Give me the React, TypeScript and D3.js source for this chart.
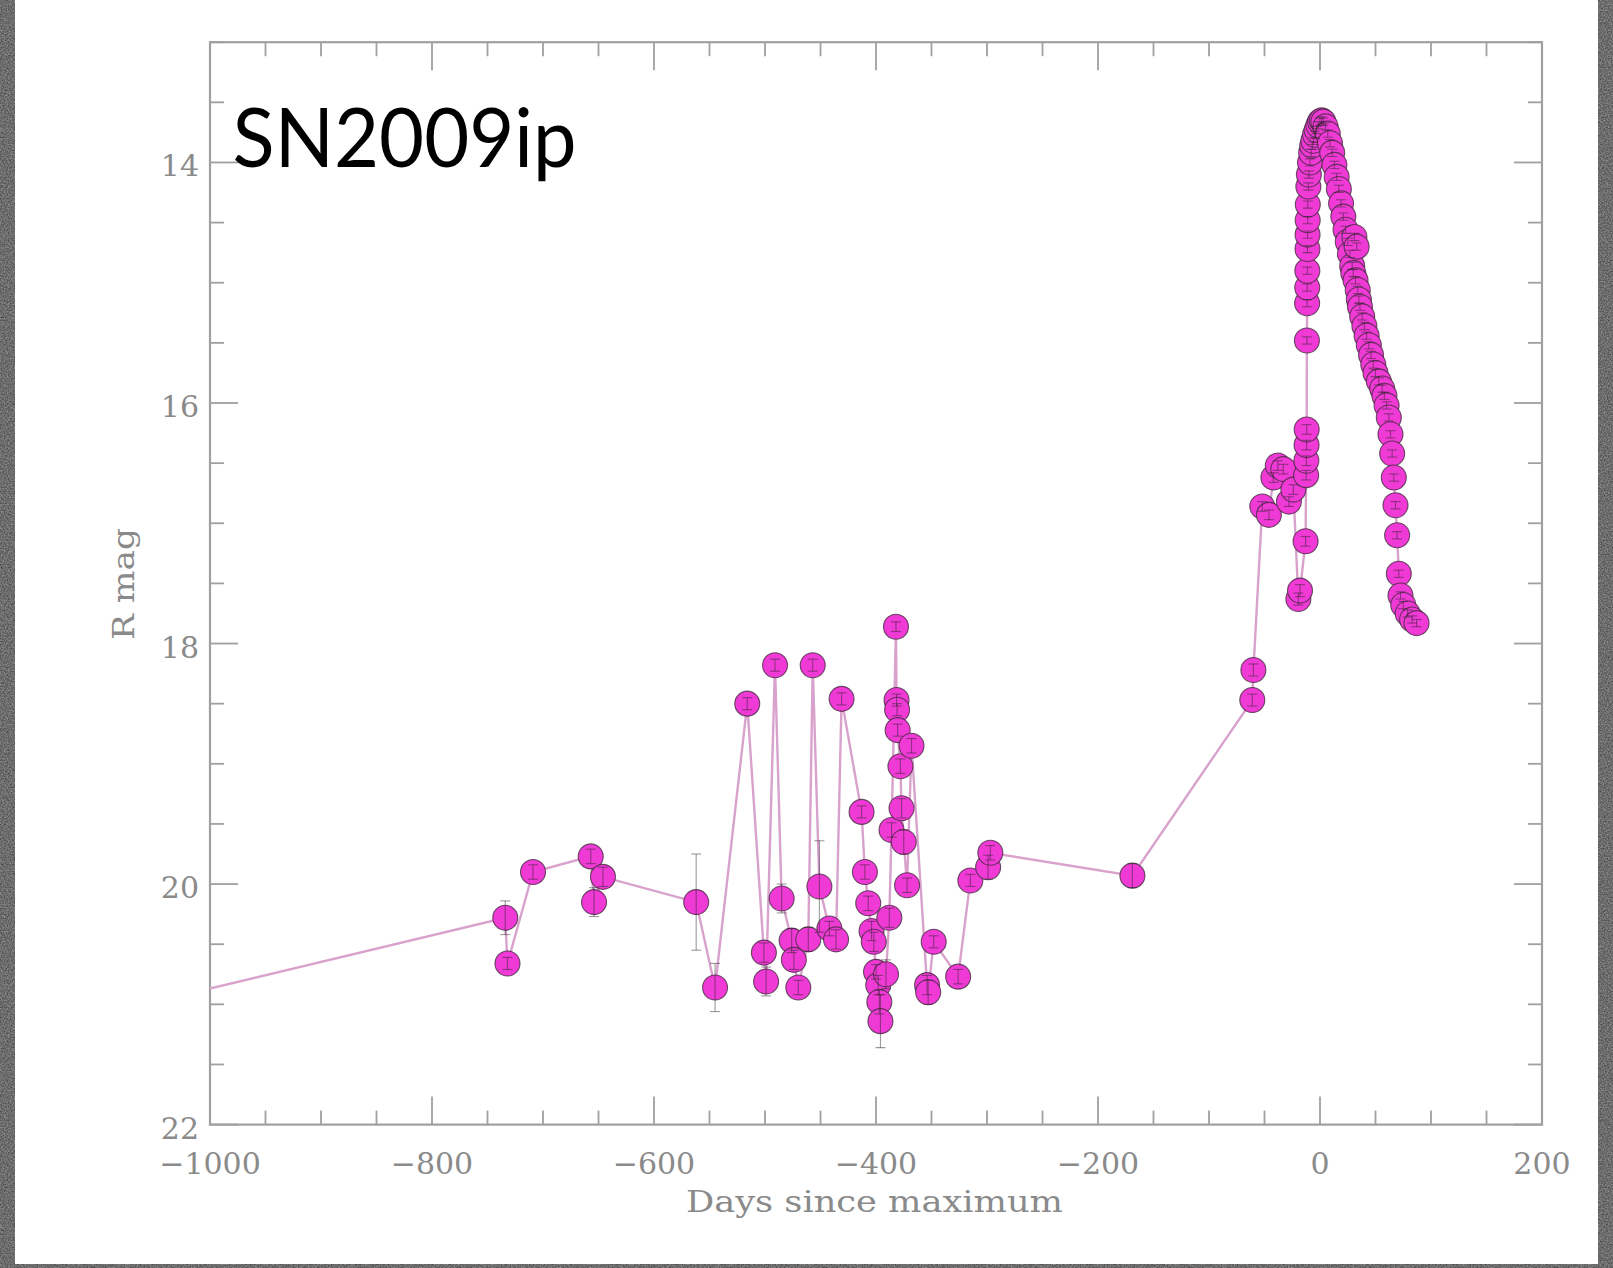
import React from 'react';
import * as d3 from 'd3';

// Light curve of SN2009ip (R band), days since maximum, magnitude, error
const days: number[] = [
  -1100, -734, -732, -709, -657, -654, -646, -562, -545, -516,
  -501, -499, -491, -485, -476, -474, -470, -461, -457, -451,
  -442, -436, -431, -413, -410, -407, -404, -402, -400, -398,
  -397, -396, -391, -388, -386, -382, -381.5, -381, -380.5, -378,
  -377, -375, -372, -368, -354, -353, -348, -326, -315, -299,
  -297, -169, -61, -60, -52, -46, -42, -38, -33, -28,
  -24, -19.5, -18, -13, -12.5, -12.3, -12.1, -12, -11.8, -11.6,
  -11.5, -11.4, -11.3, -11.2, -11.1, -11, -10.5, -10, -9, -8,
  -7, -6, -4.5, -3, -1.5, 0, 1.5, 3, 5, 7,
  9, 11, 13, 15, 17, 19, 21, 23, 25, 27,
  29, 30, 31, 32, 33, 34, 35, 36, 38, 40,
  42, 44, 46, 48, 50, 53, 56, 58, 60, 62,
  63.5, 65, 66.5, 68, 69.5, 71, 72.5, 75, 79, 83,
  87,
];

const mags: number[] = [
  21.09, 20.28, 20.66, 19.9, 19.77, 20.15, 19.94, 20.15, 20.86, 18.5,
  20.57, 20.81, 18.18, 20.12, 20.47, 20.63, 20.86, 20.46, 18.18, 20.02,
  20.37, 20.46, 18.46, 19.4, 19.9, 20.16, 20.39, 20.48, 20.73, 20.84,
  20.98, 21.14, 20.75, 20.28, 19.55, 17.86, 18.47, 18.55, 18.72, 19.02,
  19.37, 19.65, 20.01, 18.85, 20.84, 20.9, 20.48, 20.77, 19.97, 19.86,
  19.74, 19.93, 18.47, 18.22, 16.86, 16.93, 16.62, 16.52, 16.55, 16.82,
  16.72, 17.63, 17.56, 17.15, 16.6, 16.48, 16.35, 16.22, 15.48, 15.17,
  15.04, 14.9, 14.72, 14.6, 14.48, 14.35, 14.2, 14.1, 14.0, 13.92,
  13.86, 13.82, 13.77, 13.73, 13.69, 13.66, 13.65, 13.66, 13.7, 13.76,
  13.84, 13.92, 14.02, 14.12, 14.22, 14.34, 14.45, 14.56, 14.66, 14.76,
  14.86, 14.92, 14.62, 14.98, 14.7, 15.06, 15.14, 15.2, 15.28, 15.36,
  15.44, 15.52, 15.6, 15.68, 15.75, 15.82, 15.88, 15.94, 16.02, 16.12,
  16.26, 16.42, 16.62, 16.85, 17.1, 17.42, 17.6, 17.68, 17.75, 17.8,
  17.83,
];

const errs: number[] = [
  0, 0.14, 0.05, 0.06, 0.06, 0.12, 0.08, 0.4, 0.2, 0.05,
  0.08, 0.12, 0.05, 0.12, 0.1, 0.08, 0.06, 0.1, 0.05, 0.38,
  0.06, 0.08, 0.05, 0.05, 0.06, 0.06, 0.08, 0.08, 0.06, 0.08,
  0.1, 0.22, 0.12, 0.08, 0.06, 0.04, 0.05, 0.05, 0.05, 0.06,
  0.08, 0.1, 0.06, 0.06, 0.08, 0.1, 0.05, 0.06, 0.05, 0.1,
  0.06, 0.1, 0.05, 0.05, 0.04, 0.04, 0.04, 0.04, 0.04, 0.04,
  0.04, 0.05, 0.05, 0.04, 0.04, 0.04, 0.04, 0.04, 0.03, 0.03,
  0.03, 0.03, 0.03, 0.03, 0.03, 0.03, 0.03, 0.03, 0.03, 0.03,
  0.03, 0.03, 0.03, 0.03, 0.03, 0.03, 0.03, 0.03, 0.03, 0.03,
  0.03, 0.03, 0.03, 0.03, 0.03, 0.03, 0.03, 0.03, 0.03, 0.03,
  0.03, 0.03, 0.03, 0.03, 0.03, 0.03, 0.03, 0.03, 0.03, 0.03,
  0.03, 0.03, 0.03, 0.03, 0.03, 0.03, 0.03, 0.03, 0.03, 0.03,
  0.03, 0.03, 0.03, 0.03, 0.03, 0.03, 0.03, 0.03, 0.03, 0.03,
  0.03,
];

const xTicks: number[] = [-1000, -800, -600, -400, -200, 0, 200];
const yTicks: number[] = [14, 16, 18, 20, 22];
const xTickLabels: string[] = ['\u22121000', '\u2212800', '\u2212600', '\u2212400', '\u2212200', '0', '200'];
const yTickLabels: string[] = ['14', '16', '18', '20', '22'];
const title = 'SN2009ip';
const xTitle = 'Days since maximum';
const yTitle = 'R mag';

export default function App() {
  const W = 1613;
  const H = 1268;
  const L = 210, R = 1542, T = 42.2, B = 1124.6;
  const x = d3.scaleLinear().domain([-1000, 200]).range([L, R]);
  const y = d3.scaleLinear().domain([13, 22]).range([T, B]);

  const idx = d3.range(days.length);
  const linePath = d3
    .line<number>()
    .x((i) => x(days[i]))
    .y((i) => y(mags[i]))(idx) as string;

  const xMinor = d3.range(-1000, 201, 50).filter((v) => !xTicks.includes(v));
  const yMinor = d3.range(13, 22.001, 0.5).filter((v) => !yTicks.includes(v));
  const major = 28;
  const minor = 14;
  const axisColor = '#a0a0a0';
  const labelColor = '#8a8a8a';
  const serif = "'DejaVu Serif', serif";

  return (
    <div style={{ position: 'absolute', left: 0, top: 0 }}>
      <svg width={W} height={H} viewBox={`0 0 ${W} ${H}`} style={{ display: 'block' }}>
        <defs>
          <filter id="noise" x="0" y="0" width="100%" height="100%" colorInterpolationFilters="sRGB">
            <feTurbulence type="fractalNoise" baseFrequency="0.7" numOctaves="2" seed="7" />
            <feColorMatrix
              type="matrix"
              values="0.45 0 0 0 0.2  0.45 0 0 0 0.2  0.45 0 0 0 0.2  0 0 0 0 1"
            />
          </filter>
          <clipPath id="plotclip">
            <rect x={L} y={T} width={R - L} height={B - T} />
          </clipPath>
        </defs>

        {/* textured grey border */}
        <rect x={0} y={0} width={W} height={H} fill="#6e6e6e" />
        <rect x={0} y={0} width={W} height={H} filter="url(#noise)" />
        <rect x={15} y={0} width={1598 - 15} height={1264} fill="#ffffff" />

        {/* frame */}
        <rect x={L} y={T} width={R - L} height={B - T} fill="none" stroke={axisColor} strokeWidth={2.2} />

        {/* x ticks (bottom and top) */}
        {xTicks.map((v) => (
          <g key={'xt' + v} stroke={axisColor} strokeWidth={1.8}>
            <line x1={x(v)} x2={x(v)} y1={B} y2={B - major} />
            <line x1={x(v)} x2={x(v)} y1={T} y2={T + major} />
          </g>
        ))}
        {xMinor.map((v) => (
          <g key={'xm' + v} stroke={axisColor} strokeWidth={1.8}>
            <line x1={x(v)} x2={x(v)} y1={B} y2={B - minor} />
            <line x1={x(v)} x2={x(v)} y1={T} y2={T + minor} />
          </g>
        ))}
        {/* y ticks (left and right) */}
        {yTicks.map((v) => (
          <g key={'yt' + v} stroke={axisColor} strokeWidth={1.8}>
            <line x1={L} x2={L + major} y1={y(v)} y2={y(v)} />
            <line x1={R} x2={R - major} y1={y(v)} y2={y(v)} />
          </g>
        ))}
        {yMinor.map((v) => (
          <g key={'ym' + v} stroke={axisColor} strokeWidth={1.8}>
            <line x1={L} x2={L + minor} y1={y(v)} y2={y(v)} />
            <line x1={R} x2={R - minor} y1={y(v)} y2={y(v)} />
          </g>
        ))}

        {/* tick labels */}
        {xTicks.map((v, i) => (
          <text
            key={'xl' + v}
            x={x(v)}
            y={B + 49}
            textAnchor="middle"
            fontFamily={serif}
            fontSize={30}
            fill={labelColor}
          >
            {xTickLabels[i]}
          </text>
        ))}
        {yTicks.map((v, i) => (
          <text
            key={'yl' + v}
            x={L - 11}
            y={y(v) + 14}
            textAnchor="end"
            fontFamily={serif}
            fontSize={30}
            fill={labelColor}
          >
            {yTickLabels[i]}
          </text>
        ))}

        {/* axis titles */}
        <text
          x={874.5}
          y={1212}
          textAnchor="middle"
          fontFamily={serif}
          fontSize={30}
          fill={labelColor}
          textLength={377}
          lengthAdjust="spacingAndGlyphs"
        >
          {xTitle}
        </text>
        <text
          transform="translate(134,584) rotate(-90)"
          textAnchor="middle"
          fontFamily={serif}
          fontSize={30}
          fill={labelColor}
          textLength={112}
          lengthAdjust="spacingAndGlyphs"
        >
          {yTitle}
        </text>

        {/* data */}
        <g clipPath="url(#plotclip)">
          <path d={linePath} fill="none" stroke="#d8a2cd" strokeWidth={2.4} />
          {idx.map((i) => (
            <circle
              key={'c' + i}
              cx={x(days[i])}
              cy={y(mags[i])}
              r={12.5}
              fill="#ef3ad5"
              stroke="#3a2a36"
              strokeWidth={1.1}
              strokeOpacity={0.75}
            />
          ))}
          {idx
            .filter((i) => errs[i] > 0)
            .map((i) => {
              const cx = x(days[i]);
              const y1 = y(mags[i] - errs[i]);
              const y2 = y(mags[i] + errs[i]);
              return (
                <g key={'e' + i} stroke="#222" strokeWidth={1.1} strokeOpacity={0.45}>
                  <line x1={cx} x2={cx} y1={y1} y2={y2} />
                  <line x1={cx - 5} x2={cx + 5} y1={y1} y2={y1} />
                  <line x1={cx - 5} x2={cx + 5} y1={y2} y2={y2} />
                </g>
              );
            })}
        </g>

        {/* title */}
        <text
          x={232.5}
          y={166.5}
          fontFamily="Lato, 'Noto Sans', sans-serif"
          fontSize={81}
          fill="#000"
          textLength={344}
          lengthAdjust="spacingAndGlyphs"
        >
          {title}
        </text>
      </svg>
    </div>
  );
}
